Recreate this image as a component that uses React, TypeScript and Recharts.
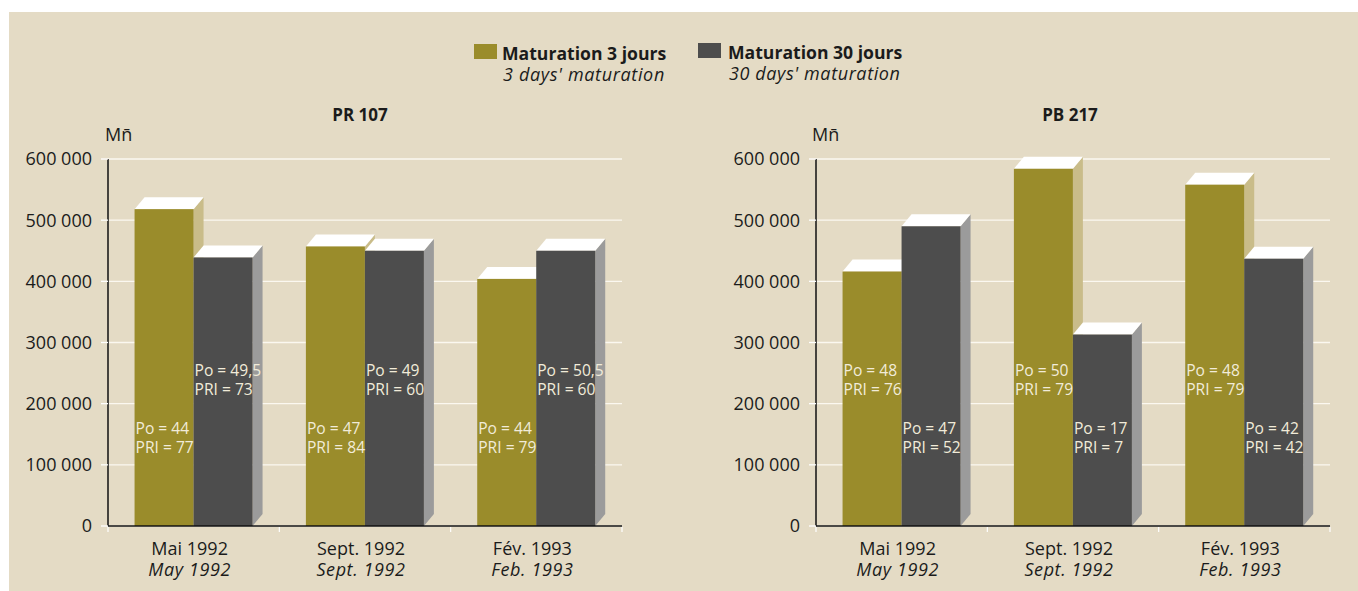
import React from "react";
import { BarChart, Bar, XAxis, YAxis, CartesianGrid, LabelList } from "recharts";

const categoriesFr = ["Mai 1992", "Sept. 1992", "Fév. 1993"];
const categoriesEn = ["May 1992", "Sept. 1992", "Feb. 1993"];
const yTicks = [0, 100000, 200000, 300000, 400000, 500000, 600000];

const pr107Days3 = [518000, 457000, 404000];
const pr107Days30 = [439000, 450000, 450000];
const pb217Days3 = [416000, 584000, 558000];
const pb217Days30 = [490000, 313000, 437000];

const pr107PoDays3 = ["44", "47", "44"];
const pr107PriDays3 = ["77", "84", "79"];
const pr107PoDays30 = ["49,5", "49", "50,5"];
const pr107PriDays30 = ["73", "60", "60"];
const pb217PoDays3 = ["48", "50", "48"];
const pb217PriDays3 = ["76", "79", "79"];
const pb217PoDays30 = ["47", "17", "42"];
const pb217PriDays30 = ["52", "7", "42"];

const FONT = "'Open Sans', 'Noto Sans', sans-serif";
const GREEN = "#9a8c2b";
const GREEN_SIDE = "#c9bc89";
const DARK = "#4d4d4d";
const DARK_SIDE = "#9b9b9b";
const TOP = "#ffffff";
const BG = "#e4dbc5";
const TEXT = "#1b1b1b";
const LABEL = "#f1ebd9";

const CHART_W = 640;
const CHART_H = 591;
const MARGIN = { top: 159, right: 18, left: 0, bottom: 0 };
const YAXIS_W = 108;
const XAXIS_H = 65;
const PLOT_W = CHART_W - MARGIN.left - MARGIN.right - YAXIS_W;
const BAND = PLOT_W / categoriesFr.length;
const DX = 10;
const DY = 12;

const buildRows = (a: number[], b: number[]) =>
  categoriesFr.map((c, i) => ({ cat: c, d3: a[i], d30: b[i] }));

const make3DBar = (front: string, side: string) => (props: any) => {
  const { x, y, width, height } = props;
  if (width == null || height == null || isNaN(y)) return <g />;
  const b = y + height;
  const r = x + width;
  return (
    <g>
      <polygon points={`${r},${y} ${r + DX},${y - DY} ${r + DX},${b - DY} ${r},${b}`} fill={side} />
      <polygon points={`${x},${y} ${x + DX},${y - DY} ${r + DX},${y - DY} ${r},${y}`} fill={TOP} />
      <rect x={x} y={y} width={width} height={height} fill={front} />
    </g>
  );
};

const makeLabel = (po: string[], pri: string[], offset: number) => (props: any) => {
  const { x, y, height, index } = props;
  const b = y + height;
  return (
    <text x={x + 1} y={b - offset} fill={LABEL} fontSize={15.6} fontFamily={FONT}>
      <tspan x={x + 1}>{`Po = ${po[index]}`}</tspan>
      <tspan x={x + 1} dy={19}>{`PRI = ${pri[index]}`}</tspan>
    </text>
  );
};

const XTick = (props: any) => {
  const { x, y, payload } = props;
  const i = categoriesFr.indexOf(payload.value);
  const ay = y;
  const cx = x - 4;
  return (
    <g>
      <line x1={x + BAND / 2} x2={x + BAND / 2} y1={ay + 1} y2={ay + 6} stroke="#ffffff" strokeWidth={1.2} />
      {i === 0 && <line x1={x - BAND / 2} x2={x - BAND / 2} y1={ay + 1} y2={ay + 6} stroke="#ffffff" strokeWidth={1.2} />}
      <text x={cx} y={ay + 29} textAnchor="middle" fontSize={18} fontFamily={FONT} fill={TEXT}>
        {categoriesFr[i]}
      </text>
      <text x={cx} y={ay + 50} textAnchor="middle" fontSize={18} letterSpacing={0.6} fontStyle="italic" fontFamily={FONT} fill={TEXT}>
        {categoriesEn[i]}
      </text>
    </g>
  );
};

const fmt = (v: number) => (v === 0 ? "0" : `${v / 1000} 000`);

type PanelProps = {
  rows: any[];
  po3: string[];
  pri3: string[];
  po30: string[];
  pri30: string[];
  off3: number;
  off30: number;
};

const Panel = ({ rows, po3, pri3, po30, pri30, off3, off30 }: PanelProps) => (
  <BarChart
    width={CHART_W}
    height={CHART_H}
    data={rows}
    margin={MARGIN}
    barCategoryGap="15.5%"
    barGap={0}
  >
    <CartesianGrid horizontal vertical={false} stroke="#fbf8f0" strokeWidth={1.3} />
    <XAxis
      dataKey="cat"
      height={XAXIS_H}
      axisLine={{ stroke: "#111111", strokeWidth: 1.5 }}
      tickLine={false}
      tickSize={0}
      tickMargin={0}
      interval={0}
      tick={<XTick />}
    />
    <YAxis
      width={YAXIS_W}
      domain={[0, 600000]}
      ticks={yTicks}
      interval={0}
      tickFormatter={fmt}
      axisLine={{ stroke: "#111111", strokeWidth: 1.5 }}
      tickLine={{ stroke: "#ffffff", strokeWidth: 1.3 }}
      tickSize={7}
      tickMargin={9}
      tick={{ fontSize: 18, fontFamily: FONT, fill: TEXT }}
    />
    <Bar dataKey="d3" fill={GREEN} isAnimationActive={false} shape={make3DBar(GREEN, GREEN_SIDE)}>
      <LabelList dataKey="d3" content={makeLabel(po3, pri3, off3)} />
    </Bar>
    <Bar dataKey="d30" fill={DARK} isAnimationActive={false} shape={make3DBar(DARK, DARK_SIDE)}>
      <LabelList dataKey="d30" content={makeLabel(po30, pri30, off30)} />
    </Bar>
  </BarChart>
);

const LOW = 92;
const HIGH = 150;

export default function App() {
  return (
    <div style={{ position: "absolute", left: 0, top: 0, width: 1358, height: 591, background: "#ffffff", overflow: "hidden" }}>
      <div style={{ position: "absolute", left: 9, top: 12, width: 1349, height: 579, background: BG }} />
      <div style={{ position: "absolute", left: 0, top: 0 }}>
        <Panel
          rows={buildRows(pr107Days3, pr107Days30)}
          po3={pr107PoDays3}
          pri3={pr107PriDays3}
          po30={pr107PoDays30}
          pri30={pr107PriDays30}
          off3={LOW}
          off30={HIGH}
        />
      </div>
      <div style={{ position: "absolute", left: 708, top: 0 }}>
        <Panel
          rows={buildRows(pb217Days3, pb217Days30)}
          po3={pb217PoDays3}
          pri3={pb217PriDays3}
          po30={pb217PoDays30}
          pri30={pb217PriDays30}
          off3={HIGH}
          off30={LOW}
        />
      </div>
      <svg width={1358} height={591} style={{ position: "absolute", left: 0, top: 0, pointerEvents: "none" }}>
        <rect x={474} y={44} width={23} height={15} fill={GREEN} />
        <text x={502} y={60} fontSize={17.6} fontWeight="bold" fontFamily={FONT} fill={TEXT}>Maturation 3 jours</text>
        <text x={503} y={81} fontSize={18} letterSpacing={0.65} fontStyle="italic" fontFamily={FONT} fill={TEXT}>3 days' maturation</text>
        <rect x={698} y={43} width={23} height={15} fill={DARK} />
        <text x={728} y={59} fontSize={17.6} fontWeight="bold" fontFamily={FONT} fill={TEXT}>Maturation 30 jours</text>
        <text x={729} y={80} fontSize={18} letterSpacing={0.6} fontStyle="italic" fontFamily={FONT} fill={TEXT}>30 days' maturation</text>
        <text x={360} y={121} textAnchor="middle" fontSize={17} fontWeight="bold" fontFamily={FONT} fill={TEXT}>PR 107</text>
        <text x={1070} y={121} textAnchor="middle" fontSize={17} fontWeight="bold" fontFamily={FONT} fill={TEXT}>PB 217</text>
        <text x={105} y={141} fontSize={18} fontFamily={FONT} fill={TEXT}>{"Mn\u0304"}</text>
        <text x={812} y={141} fontSize={18} fontFamily={FONT} fill={TEXT}>{"Mn\u0304"}</text>
      </svg>
    </div>
  );
}
